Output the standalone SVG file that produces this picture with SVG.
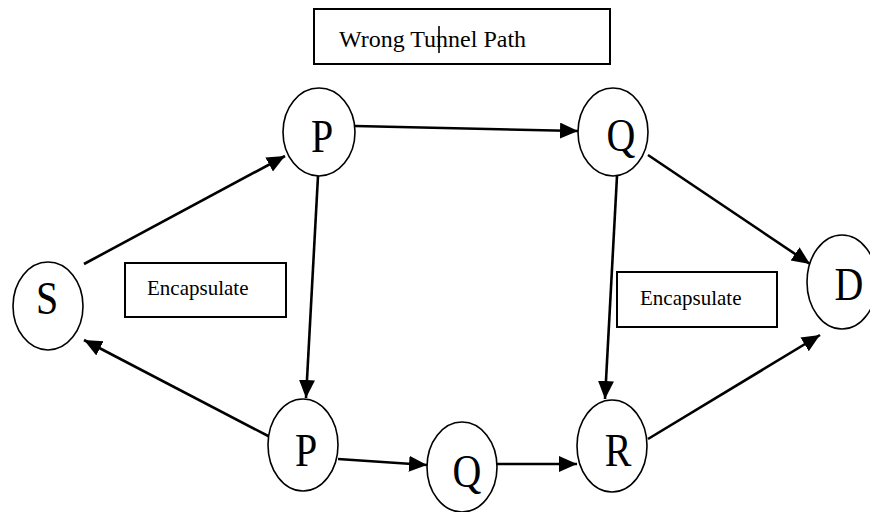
<svg xmlns="http://www.w3.org/2000/svg" width="870" height="512" viewBox="0 0 870 512">
<style>
.node{fill:#fff;stroke:#000;stroke-width:1.6}
.lbl{font-family:"Liberation Serif","Times New Roman",serif;font-size:47px;fill:#000;text-anchor:middle}
.box{fill:#fff;stroke:#000;stroke-width:2}
.btxt{font-family:"Liberation Serif","Times New Roman",serif;font-size:21px;fill:#000}
.edge{stroke:#000;stroke-width:2.6;fill:none;marker-end:url(#arr)}
</style>
<defs>
<marker id="arr" markerUnits="userSpaceOnUse" markerWidth="20" markerHeight="18" refX="18" refY="8" orient="auto">
<path d="M0,0 L18,8 L0,16 Z" fill="#000"/>
</marker>
</defs>
<g id="title">
<rect class="box" x="314" y="9" width="296" height="55"/>
<text x="339" y="47" font-family="Liberation Serif, Times New Roman, serif" font-size="24" fill="#000">Wrong Tunnel Path</text>
<line x1="439" y1="26" x2="439" y2="53" stroke="#000" stroke-width="1.6"/>
</g>
<g id="enc-left">
<rect class="box" x="125" y="263" width="161" height="54"/>
<text class="btxt" x="147" y="295">Encapsulate</text>
</g>
<g id="enc-right">
<rect class="box" x="617" y="272" width="160" height="55"/>
<text class="btxt" x="640" y="305">Encapsulate</text>
</g>
<g id="connectors">
<line class="edge" x1="84" y1="264" x2="285" y2="156"/>
<line class="edge" x1="272" y1="438" x2="84" y2="340"/>
<line class="edge" x1="355" y1="126" x2="578" y2="131"/>
<line class="edge" x1="318" y1="176" x2="306" y2="398"/>
<line class="edge" x1="648" y1="155" x2="810" y2="264"/>
<line class="edge" x1="617" y1="176" x2="605" y2="399"/>
<line class="edge" x1="338" y1="459" x2="427" y2="465"/>
<line class="edge" x1="497" y1="464" x2="577" y2="464"/>
<line class="edge" x1="648" y1="439" x2="820" y2="335"/>
</g>
<g id="node-S">
<ellipse class="node" cx="48" cy="306" rx="35" ry="44"/>
<text class="lbl" transform="translate(47 314) scale(0.85 1)">S</text>
</g>
<g id="node-P1">
<ellipse class="node" cx="319" cy="132" rx="36" ry="44"/>
<text class="lbl" transform="translate(322 152) scale(0.85 1)">P</text>
</g>
<g id="node-Q1">
<ellipse class="node" cx="613" cy="132" rx="35" ry="44"/>
<text class="lbl" transform="translate(621 151) scale(0.85 1)">Q</text>
</g>
<g id="node-D">
<ellipse class="node" cx="842" cy="282" rx="35" ry="47"/>
<text class="lbl" transform="translate(849 300) scale(0.85 1)">D</text>
</g>
<g id="node-P2">
<ellipse class="node" cx="303" cy="445" rx="35" ry="46"/>
<text class="lbl" transform="translate(306 466) scale(0.85 1)">P</text>
</g>
<g id="node-Q2">
<ellipse class="node" cx="462" cy="467" rx="35" ry="45"/>
<text class="lbl" transform="translate(467 487) scale(0.85 1)">Q</text>
</g>
<g id="node-R">
<ellipse class="node" cx="612" cy="446" rx="35" ry="46"/>
<text class="lbl" transform="translate(618 466) scale(0.85 1)">R</text>
</g>
</svg>
